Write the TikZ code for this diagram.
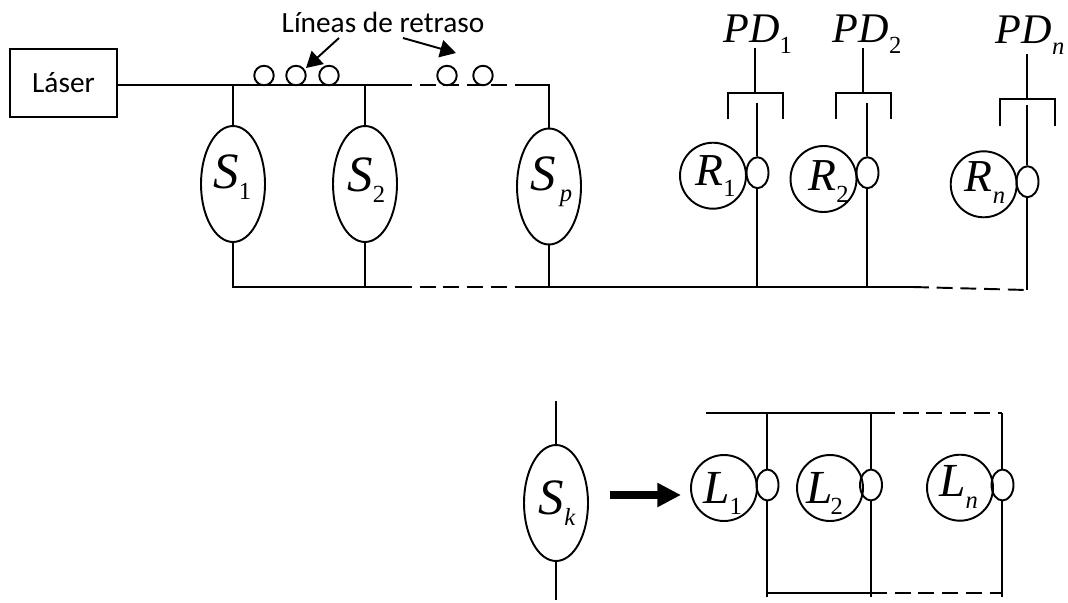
\documentclass[tikz,border=0pt]{standalone}
\usepackage{fontspec}
\setmainfont{Liberation Serif}
\newfontfamily\labelfont{Carlito}
\usetikzlibrary{shapes.geometric,arrows.meta}
\newcommand{\varsub}[3][27]{{\fontsize{#1}{#1}\selectfont\itshape #2}\raisebox{-6.5pt}{\fontsize{14}{14}\selectfont #3}}
\tikzset{
  wire/.style={line width=1.1pt},
  dashwire/.style={line width=1.1pt,dash pattern=on 9pt off 4.5pt},
  sensor/.style={draw,line width=1.1pt,ellipse,minimum width=1.28cm,minimum height=2.32cm,inner sep=0},
  ring/.style={draw,line width=1.1pt,circle,minimum size=1.32cm,inner sep=0},
  oval/.style={draw,line width=1.1pt,ellipse,minimum width=0.44cm,minimum height=0.62cm,inner sep=0},
  coil/.style={draw,line width=1.1pt,circle,minimum size=0.39cm,inner sep=0},
  sym/.style={anchor=base west,inner sep=0},
  txt/.style={inner sep=0,font=\labelfont\fontsize{16.7}{16.7}\selectfont}
}
\begin{document}
\begin{tikzpicture}[x=0.02cm,y=-0.02cm]
\useasboundingbox (0,0) rectangle (1068,602);
\node[draw,line width=1.1pt,minimum width=2.14cm,minimum height=1.36cm,inner sep=0,txt] (laser) at (63.5,83) {Láser};
\node[txt,anchor=base] (retraso) at (383,32) {Líneas de retraso};

\node[coil] (c1) at (264,75.5) {};
\node[coil] (c2) at (296,75.5) {};
\node[coil] (c3) at (329,75.5) {};
\node[coil] (c4) at (447,75.5) {};
\node[coil] (c5) at (483,75.5) {};
\coordinate (tipa) at (306,68);
\coordinate (tipb) at (456,53);
\coordinate (taila) at (339,38);
\coordinate (tailb) at (403,38);
\draw[wire,-{Triangle[length=9pt,width=10pt]}] (taila) -- (tipa);
\draw[wire,-{Triangle[length=9pt,width=10pt]}] (tailb) -- (tipb);

\node[sensor] (s1) at (233,184) {};
\node[sensor] (s2) at (365,184) {};
\node[sensor] (sp) at (549,186.5) {};
\node[sym] (ls1) at (213,188) {\varsub[29]{S}{1}};
\node[sym] (ls2) at (347,191) {\varsub[29]{S}{2}};
\node[sym] (lsp) at (530,190) {\varsub[29]{S}{\,\textit{p}}};

\coordinate (t1) at (233,85);
\coordinate (t2) at (365,85);
\coordinate (t3) at (396,85);
\coordinate (t4) at (516,85);
\coordinate (t5) at (549,85);
\coordinate (b1) at (233,287);
\coordinate (b2) at (365,287);
\coordinate (b3) at (396,287);
\coordinate (b4) at (516,287);
\coordinate (b5) at (549,287);
\coordinate (b6) at (757,287);
\coordinate (b7) at (867,287);
\coordinate (b8) at (913,287);
\coordinate (b9) at (1027,290);
\draw[wire] (laser.east |- t1) -- (t3);
\draw[dashwire] (t3) -- (t4);
\draw[wire] (t4) -- (t5) -- (sp.north);
\draw[wire] (t1) -- (s1.north);
\draw[wire] (t2) -- (s2.north);
\draw[wire] (s1.south) -- (b1) -- (b3);
\draw[wire] (s2.south) -- (b2);
\draw[wire] (sp.south) -- (b5);
\draw[dashwire] (b3) -- (b4);
\draw[wire] (b4) -- (b8);
\draw[dashwire] (b8) -- (b9);

\node[sym] (pd1) at (723,42) {\varsub[24]{PD}{1}};
\node[sym] (pd2) at (832.6,42) {\varsub[24]{PD}{2}};
\node[sym] (pdn) at (995.6,43) {\varsub[24]{PD}{\textit{n}}};
\coordinate (p1) at (755,48);
\coordinate (p2) at (863,48);
\coordinate (p3) at (1027,54);
\coordinate (k1) at (755,93);
\coordinate (k2) at (863,93);
\coordinate (k3) at (1027,99);
\draw[wire] (p1) -- (k1);
\draw[wire] (p2) -- (k2);
\draw[wire] (p3) -- (k3);
\draw[wire] (728,119) -- (728,93) -- (783,93) -- (783,119);
\draw[wire] (836,119) -- (836,93) -- (891,93) -- (891,119);
\draw[wire] (1000,125.7) -- (1000,99) -- (1055,99) -- (1055,125.7);

\node[ring] (r1) at (713,175.7) {};
\node[ring] (r2) at (823.5,179) {};
\node[ring] (rn) at (983.7,184.3) {};
\node[oval] (o1) at (757.5,172.7) {};
\node[oval] (o2) at (867.5,172.7) {};
\node[oval] (on) at (1027.5,181.7) {};
\node[sym] (lr1) at (695,185) {\varsub[26]{R}{1}};
\node[sym] (lr2) at (808,190.7) {\varsub[26]{R}{2}};
\node[sym] (lrn) at (964.5,191.7) {\varsub[26]{R}{\textit{n}}};
\coordinate (d1) at (757,103);
\coordinate (d2) at (867,103);
\coordinate (d3) at (1027,105);
\draw[wire] (d1) -- (d1 |- o1.north);
\draw[wire] (d2) -- (d2 |- o2.north);
\draw[wire] (d3) -- (d3 |- on.north);
\draw[wire] (b6 |- o1.south) -- (b6);
\draw[wire] (b7 |- o2.south) -- (b7);
\draw[wire] (b9 |- on.south) -- (b9);

\node[sensor] (sk) at (556,503) {};
\node[sym] (lsk) at (538.6,514) {\varsub[29]{S}{\textit{k}}};
\coordinate (ska) at (556,401);
\coordinate (skb) at (556,600);
\draw[wire] (ska) -- (sk.north);
\draw[wire] (sk.south) -- (skb);
\coordinate (fa) at (610,495);
\coordinate (fb) at (681,495);
\draw[line width=4pt,-{Triangle[length=13.5pt,width=13pt]}] (fa) -- (fb);

\node[ring] (l1) at (724,488) {};
\node[ring] (l2) at (830,488) {};
\node[ring] (ln) at (960,487.7) {};
\node[oval] (q1) at (767.5,485) {};
\node[oval] (q2) at (871,485) {};
\node[oval] (qn) at (1002.5,485) {};
\node[sym] (ll1) at (703,503) {\varsub{L}{1}};
\node[sym] (ll2) at (806.5,503) {\varsub{L}{\kern-1.5pt 2}};
\node[sym] (lln) at (939,496.7) {\varsub{L}{\textit{n}}};
\coordinate (ta) at (706,413);
\coordinate (tb) at (767,413);
\coordinate (tc) at (871,413);
\coordinate (td) at (879,413);
\coordinate (te) at (1002,413);
\coordinate (ba) at (767,593);
\coordinate (bb) at (871,593);
\coordinate (bc) at (1002,593);
\coordinate (ea) at (767,597);
\coordinate (eb) at (871,597);
\coordinate (ec) at (1002,597);
\draw[wire] (ta) -- (td);
\draw[dashwire] (td) -- (te);
\draw[wire] (tb) -- (tb |- q1.north);
\draw[wire] (tc) -- (tc |- q2.north);
\draw[wire] (te) -- (te |- qn.north);
\draw[wire] (ea |- q1.south) -- (ea);
\draw[wire] (eb |- q2.south) -- (eb);
\draw[wire] (ec |- qn.south) -- (ec);
\draw[wire] (ba) -- (bb);
\draw[dashwire] (bb) -- (bc);
\end{tikzpicture}
\end{document}
